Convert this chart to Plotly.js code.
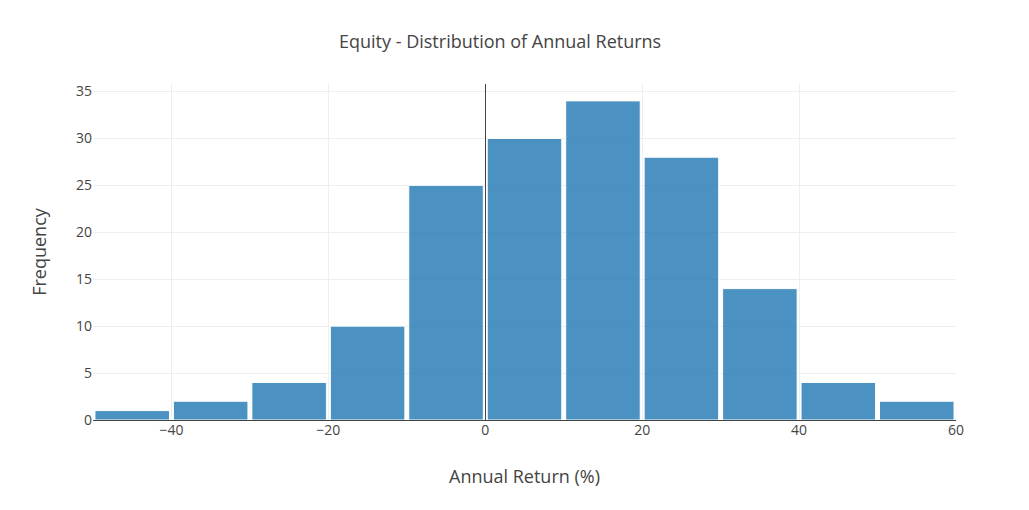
<!DOCTYPE html>
<html>
<head>
<meta charset="utf-8">
<script src="https://cdn.plot.ly/plotly-3.0.1.min.js"></script>
<style>
  html, body { margin: 0; padding: 0; background: white; }
  #chart { width: 1029px; height: 510px; }
</style>
</head>
<body>
<div id="chart"></div>
<script>
// Annual return bins (%), width 10
const binStarts = [-50, -40, -30, -20, -10, 0, 10, 20, 30, 40, 50];
const binSize = 10;
const frequencies = [1, 2, 4, 10, 25, 30, 34, 28, 14, 4, 2];

const xTicks = [-40, -20, 0, 20, 40, 60];

const binCenters = binStarts.map(s => s + binSize / 2);

const trace = {
    type: "bar",
    x: binCenters,
    y: frequencies,
    width: binStarts.map(() => binSize * 0.95),
    marker: {
        color: "rgb(31,119,180)",
        opacity: 0.8,
        line: { color: "white", width: 1 }
    },
    hoverinfo: "x+y"
};

const layout = {
    title: {
        text: "Equity - Distribution of Annual Returns",
        font: { family: "Open Sans", size: 18, color: "#444" },
        x: 0.486,
        y: 0.918,
        yanchor: "middle"
    },
    xaxis: {
        title: { text: "Annual Return (%)", font: { size: 18, color: "#444" }, standoff: 32 },
        range: [-50, 60],
        tickvals: xTicks,
        tickfont: { size: 14, color: "#444" },
        gridcolor: "#eeeeee",
        zeroline: true,
        zerolinecolor: "#444",
        zerolinewidth: 1,
        showline: false
    },
    yaxis: {
        title: { text: "Frequency", font: { size: 18, color: "#444" }, standoff: 24 },
        range: [0, 35.8],
        dtick: 5,
        tickfont: { size: 14, color: "#444" },
        gridcolor: "#eeeeee",
        zeroline: true,
        zerolinecolor: "#444",
        zerolinewidth: 1
    },
    font: { family: "Open Sans", color: "#444" },
    showlegend: false,
    plot_bgcolor: "white",
    paper_bgcolor: "white",
    margin: { l: 93, r: 73, t: 84, b: 90 }
};

Plotly.newPlot("chart", [trace], layout, { displayModeBar: false });
</script>
</body>
</html>
